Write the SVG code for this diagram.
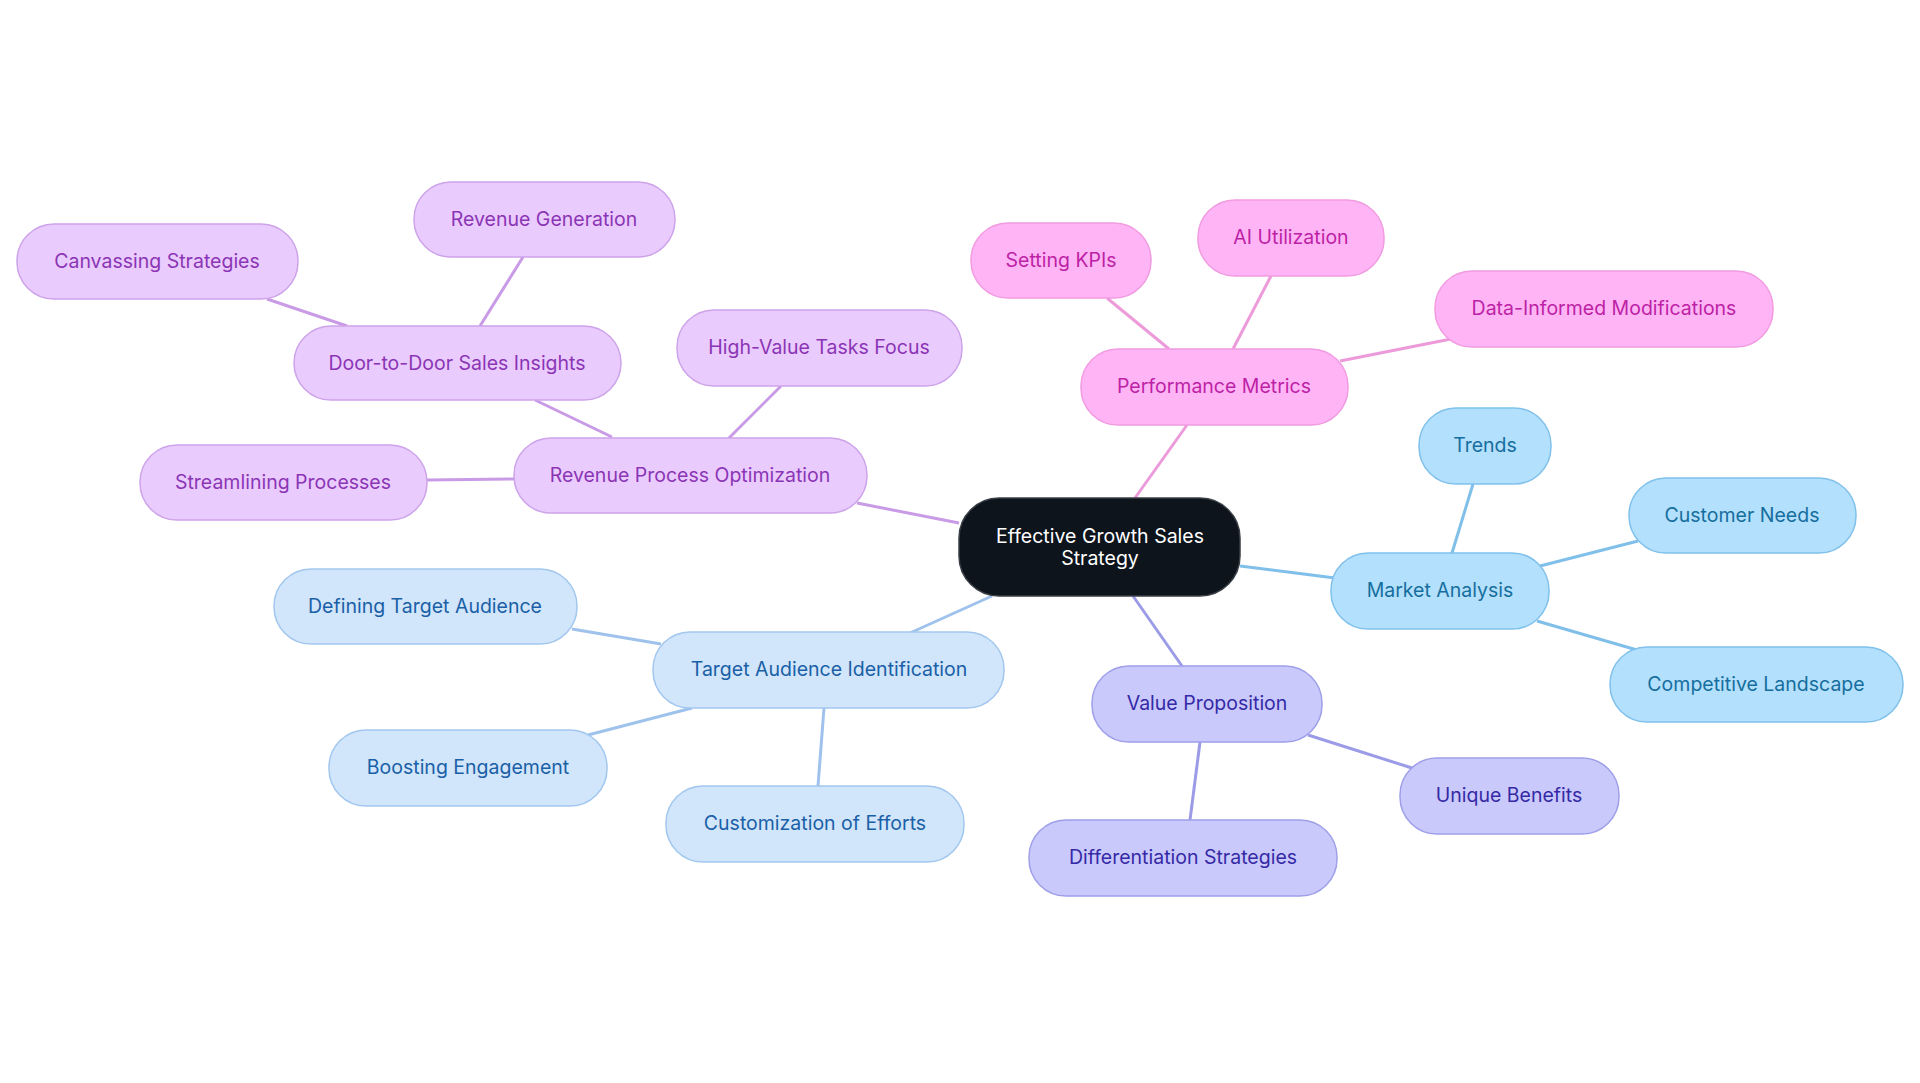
<svg xmlns="http://www.w3.org/2000/svg" width="1920" height="1083" viewBox="0 0 1920 1083">
<style>
text{font-family:Inter,"Noto Sans",sans-serif;font-size:19.5px;text-anchor:middle;dominant-baseline:central}
rect{stroke-width:1.5}
.p rect{fill:#eacbfd;stroke:#cda3ea}.p text{fill:#8a35b5}
.k rect{fill:#ffb5f5;stroke:#f19be1}.k text{fill:#bd22a6}
.m rect{fill:#b3e0fc;stroke:#80c1eb}.m text{fill:#166e9e}
.v rect{fill:#c9c9fb;stroke:#9f9fe9}.v text{fill:#3529a6}
.t rect{fill:#d1e5fb;stroke:#a2c7ee}.t text{fill:#1a60a6}
#edges line{stroke-width:3}
</style>
<rect width="1920" height="1083" fill="#fff"/>
<g id="edges">
<g stroke="#c99be6"><line x1="959" y1="523" x2="857" y2="503"/><line x1="612" y1="437" x2="535" y2="400"/><line x1="347" y1="326" x2="267" y2="299"/><line x1="480" y1="326" x2="523" y2="257"/><line x1="729" y1="438" x2="781" y2="386"/><line x1="514" y1="479" x2="427" y2="480"/></g>
<g stroke="#ec9ad9"><line x1="1135" y1="498" x2="1187" y2="425"/><line x1="1169" y1="349" x2="1107" y2="298"/><line x1="1233" y1="349" x2="1271" y2="276"/><line x1="1340" y1="361" x2="1451" y2="339"/></g>
<g stroke="#7fbfe9"><line x1="1240" y1="566" x2="1335" y2="578"/><line x1="1452" y1="553" x2="1473" y2="484"/><line x1="1540" y1="566" x2="1638" y2="541"/><line x1="1537" y1="621" x2="1637" y2="650"/></g>
<g stroke="#9b9be8"><line x1="1133" y1="596" x2="1182" y2="666"/><line x1="1308" y1="735" x2="1412" y2="768"/><line x1="1200" y1="742" x2="1190" y2="820"/></g>
<g stroke="#9fc2ec"><line x1="992" y1="596" x2="910" y2="633"/><line x1="661" y1="644" x2="572" y2="629"/><line x1="692" y1="708" x2="588" y2="735"/><line x1="824" y1="708" x2="818" y2="786"/></g>
</g>
<g id="central"><rect x="959" y="498" width="281" height="98" rx="40" fill="#0d141c" stroke="#3a3f46"/><text x="1100" y="536" fill="#fff">Effective Growth Sales</text><text x="1100" y="558" fill="#fff">Strategy</text></g>
<g id="rpo" class="p"><rect x="514" y="438" width="353" height="75" rx="37"/><text x="690" y="475">Revenue Process Optimization</text></g>
<g id="d2d" class="p"><rect x="294" y="326" width="327" height="74" rx="37"/><text x="457" y="363">Door-to-Door Sales Insights</text></g>
<g id="canv" class="p"><rect x="17" y="224" width="281" height="75" rx="37"/><text x="157" y="261">Canvassing Strategies</text></g>
<g id="revgen" class="p"><rect x="414" y="182" width="261" height="75" rx="37"/><text x="544" y="219">Revenue Generation</text></g>
<g id="hv" class="p"><rect x="677" y="310" width="285" height="76" rx="37"/><text x="819" y="347">High-Value Tasks Focus</text></g>
<g id="stream" class="p"><rect x="140" y="445" width="287" height="75" rx="37"/><text x="283" y="482">Streamlining Processes</text></g>
<g id="pm" class="k"><rect x="1081" y="349" width="267" height="76" rx="37"/><text x="1214" y="386">Performance Metrics</text></g>
<g id="kpi" class="k"><rect x="971" y="223" width="180" height="75" rx="37"/><text x="1061" y="260">Setting KPIs</text></g>
<g id="ai" class="k"><rect x="1198" y="200" width="186" height="76" rx="37"/><text x="1291" y="237">AI Utilization</text></g>
<g id="data" class="k"><rect x="1435" y="271" width="338" height="76" rx="37"/><text x="1604" y="308">Data-Informed Modifications</text></g>
<g id="ma" class="m"><rect x="1331" y="553" width="218" height="76" rx="37"/><text x="1440" y="590">Market Analysis</text></g>
<g id="trends" class="m"><rect x="1419" y="408" width="132" height="76" rx="37"/><text x="1485" y="445">Trends</text></g>
<g id="cn" class="m"><rect x="1629" y="478" width="227" height="75" rx="37"/><text x="1742" y="515">Customer Needs</text></g>
<g id="cl" class="m"><rect x="1610" y="647" width="293" height="75" rx="37"/><text x="1756" y="684">Competitive Landscape</text></g>
<g id="vp" class="v"><rect x="1092" y="666" width="230" height="76" rx="37"/><text x="1207" y="703">Value Proposition</text></g>
<g id="ub" class="v"><rect x="1400" y="758" width="219" height="76" rx="37"/><text x="1509" y="795">Unique Benefits</text></g>
<g id="ds" class="v"><rect x="1029" y="820" width="308" height="76" rx="37"/><text x="1183" y="857">Differentiation Strategies</text></g>
<g id="tai" class="t"><rect x="653" y="632" width="351" height="76" rx="37"/><text x="829" y="669">Target Audience Identification</text></g>
<g id="dta" class="t"><rect x="274" y="569" width="303" height="75" rx="37"/><text x="425" y="606">Defining Target Audience</text></g>
<g id="be" class="t"><rect x="329" y="730" width="278" height="76" rx="37"/><text x="468" y="767">Boosting Engagement</text></g>
<g id="ce" class="t"><rect x="666" y="786" width="298" height="76" rx="37"/><text x="815" y="823">Customization of Efforts</text></g>
</svg>
